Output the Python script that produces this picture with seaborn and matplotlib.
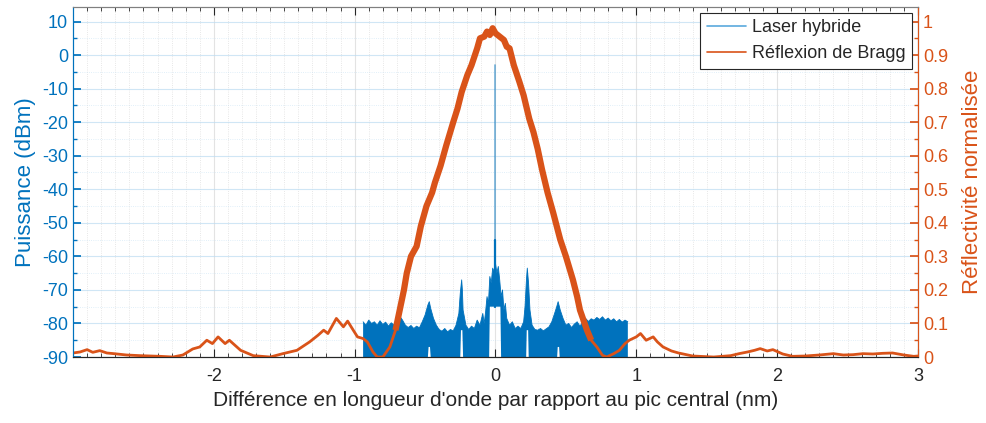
import numpy as np
import matplotlib
matplotlib.use("Agg")
import matplotlib.pyplot as plt
import matplotlib.ticker as ticker
from matplotlib.lines import Line2D
import seaborn as sns

# Bragg reflection spectrum (normalised reflectivity)
bragg_x = [-3.00, -2.95, -2.90, -2.86, -2.81, -2.76, -2.71, -2.62, -2.52, -2.38,
           -2.29, -2.22, -2.15, -2.10, -2.05, -2.01, -1.97, -1.92, -1.89, -1.81,
           -1.72, -1.60, -1.51, -1.46, -1.41, -1.32, -1.26, -1.22, -1.19, -1.13,
           -1.08, -1.05, -1.01, -0.98, -0.94, -0.91, -0.87, -0.84, -0.80, -0.75,
           -0.71, -0.68, -0.65, -0.63, -0.60, -0.56, -0.53, -0.49, -0.45, -0.43,
           -0.39, -0.35, -0.30, -0.27, -0.24, -0.20, -0.17, -0.13, -0.11, -0.08,
           -0.06, -0.04, -0.02, 0.00, 0.03, 0.06, 0.08, 0.10, 0.13, 0.17,
           0.20, 0.24, 0.27, 0.30, 0.33, 0.37, 0.41, 0.46, 0.50, 0.55,
           0.58, 0.60, 0.65, 0.68, 0.72, 0.76, 0.79, 0.84, 0.88, 0.92,
           0.95, 1.00, 1.03, 1.07, 1.12, 1.15, 1.19, 1.25, 1.30, 1.40,
           1.55, 1.67, 1.73, 1.79, 1.84, 1.88, 1.93, 1.97, 2.04, 2.11,
           2.20, 2.30, 2.40, 2.47, 2.54, 2.61, 2.68, 2.75, 2.82, 2.90,
           2.97, 3.00]
bragg_r = [0.012, 0.015, 0.022, 0.014, 0.019, 0.012, 0.010, 0.006, 0.004, 0.002,
           0.000, 0.006, 0.024, 0.030, 0.050, 0.040, 0.060, 0.040, 0.050, 0.020,
           0.004, 0.000, 0.010, 0.015, 0.020, 0.045, 0.065, 0.080, 0.070, 0.115,
           0.090, 0.107, 0.080, 0.060, 0.055, 0.045, 0.015, 0.000, 0.000, 0.030,
           0.080, 0.140, 0.200, 0.250, 0.300, 0.330, 0.390, 0.450, 0.490, 0.520,
           0.570, 0.630, 0.700, 0.740, 0.790, 0.840, 0.870, 0.920, 0.950, 0.955,
           0.970, 0.960, 0.980, 0.965, 0.955, 0.945, 0.925, 0.920, 0.870, 0.820,
           0.780, 0.710, 0.670, 0.620, 0.560, 0.490, 0.430, 0.350, 0.300, 0.230,
           0.180, 0.140, 0.080, 0.050, 0.030, 0.005, 0.000, 0.010, 0.020, 0.040,
           0.050, 0.060, 0.070, 0.050, 0.060, 0.045, 0.030, 0.018, 0.012, 0.003,
           0.000, 0.004, 0.010, 0.015, 0.020, 0.025, 0.018, 0.022, 0.009, 0.002,
           0.003, 0.006, 0.010, 0.006, 0.007, 0.010, 0.009, 0.011, 0.012, 0.006,
           0.002, 0.003]

# Hybrid laser spectrum: upper envelope of the noisy trace (dBm)
laser_top_x = [-0.94, -0.92, -0.90, -0.88, -0.86, -0.84, -0.82, -0.80, -0.78, -0.76,
               -0.74, -0.72, -0.70, -0.68, -0.66, -0.64, -0.62, -0.60, -0.58, -0.56,
               -0.54, -0.52, -0.50, -0.48, -0.47, -0.46, -0.44, -0.42, -0.40, -0.38,
               -0.36, -0.34, -0.32, -0.30, -0.28, -0.26, -0.25, -0.24, -0.235, -0.23,
               -0.21, -0.19, -0.17, -0.15, -0.13, -0.11, -0.09, -0.08, -0.07, -0.06,
               -0.05, -0.04, -0.03, -0.02, -0.01, 0.00, 0.01, 0.02, 0.03, 0.04,
               0.05, 0.06, 0.07, 0.08, 0.10, 0.12, 0.14, 0.16, 0.18, 0.20,
               0.21, 0.22, 0.226, 0.235, 0.245, 0.26, 0.28, 0.30, 0.32, 0.34,
               0.36, 0.38, 0.40, 0.42, 0.435, 0.445, 0.46, 0.48, 0.50, 0.52,
               0.54, 0.56, 0.58, 0.60, 0.62, 0.64, 0.66, 0.68, 0.70, 0.72,
               0.74, 0.76, 0.78, 0.80, 0.82, 0.84, 0.86, 0.88, 0.90, 0.92,
               0.94]
laser_top = [-79.5, -80.5, -79.0, -80.0, -79.5, -80.5, -79.2, -80.3, -79.6, -80.8,
             -79.8, -80.5, -78.8, -77.8, -79.0, -80.5, -81.2, -80.6, -81.5, -80.8,
             -81.3, -79.5, -77.5, -74.5, -73.5, -75.5, -78.5, -80.5, -81.8, -82.3,
             -81.5, -82.5, -81.8, -82.2, -80.5, -77.0, -71.0, -67.0, -70.0, -76.0,
             -80.5, -81.8, -80.8, -81.5, -79.0, -80.5, -77.0, -80.0, -76.5, -72.0,
             -74.0, -66.0, -68.0, -63.5, -64.5, -62.0, -65.0, -63.0, -67.0, -72.0,
             -70.0, -76.0, -74.0, -78.5, -80.5, -79.5, -81.5, -80.8, -81.5, -79.5,
             -75.0, -67.0, -63.5, -68.0, -76.0, -80.5, -81.8, -82.0, -81.5, -82.2,
             -81.6, -81.0, -79.5, -77.0, -75.0, -73.5, -76.0, -78.5, -80.5, -80.0,
             -81.2, -80.2, -79.5, -80.8, -79.6, -78.5, -79.4, -78.6, -79.0, -78.2,
             -78.8, -78.0, -79.0, -78.4, -79.2, -78.6, -79.5, -78.8, -79.6, -79.0,
             -79.5]
# lower envelope (floor rises under the side modes)
laser_bot_x = [-0.94, -0.48, -0.475, -0.465, -0.46, -0.25, -0.245, -0.235, -0.23,
               -0.045, -0.04, 0.035, 0.04, 0.218, 0.222, 0.232, 0.236,
               0.438, 0.442, 0.452, 0.456, 0.94]
laser_bot = [-90, -90, -87, -87, -90, -90, -82, -82, -90,
             -90, -75, -75, -90, -90, -82, -82, -90,
             -90, -87, -87, -90, -90]
peak_x = 0.0
peak_dbm = -3.0

blue = "#0072BD"
orange = "#D95319"

sns.set_theme(style="white")
plt.rcParams['font.family'] = ['Liberation Sans', 'DejaVu Sans']
plt.rcParams['axes.unicode_minus'] = False

fig = plt.figure(figsize=(9.87, 4.23), dpi=100)
ax = fig.add_axes([0.074, 0.156, 0.856, 0.828])
ax2 = ax.twinx()

# laser spectrum as a filled noise band + central lasing line
poly_x = laser_top_x + laser_bot_x[::-1]
poly_y = laser_top + laser_bot[::-1]
ax.fill(poly_x, poly_y, color=blue, lw=0)
ax.plot(laser_top_x, laser_top, color=blue, lw=0.6)
ax.plot([peak_x, peak_x], [-75, peak_dbm], color=blue, lw=1.2, alpha=0.55)
ax.plot([peak_x, peak_x], [-75, -55], color=blue, lw=1.6)

# Bragg reflection
sns.lineplot(x=bragg_x, y=bragg_r, ax=ax2, color=orange, lw=2.0, sort=False)
bx = np.array(bragg_x)
br = np.array(bragg_r)
core = np.abs(bx) < 0.72
ax2.plot(bx[core], br[core], color=orange, lw=4.5, solid_capstyle='butt')

ax.set_xlim(-3, 3)
ax.set_ylim(-90, 14.4)
ax2.set_ylim(0, 1.044)

ax.set_xticks([-2, -1, 0, 1, 2, 3])
ax.xaxis.set_minor_locator(ticker.MultipleLocator(0.1))
ax.set_yticks(np.arange(-90, 11, 10))
ax.yaxis.set_minor_locator(ticker.MultipleLocator(5))
ax2.set_yticks(np.arange(0, 1.01, 0.1))
ax2.set_yticklabels(['0', '0.1', '0.2', '0.3', '0.4', '0.5', '0.6', '0.7', '0.8', '0.9', '1'])
ax2.yaxis.set_minor_locator(ticker.MultipleLocator(0.05))

ax.tick_params(axis='x', which='both', direction='in', top=True, bottom=True,
               colors='#262626', labelsize=13, pad=8)
ax.tick_params(axis='x', which='major', length=6, width=0.8)
ax.tick_params(axis='x', which='minor', length=3, width=0.6)
ax.tick_params(axis='y', which='both', direction='in', colors=blue, labelsize=13)
ax.tick_params(axis='y', which='major', length=6)
ax.tick_params(axis='y', which='minor', length=3)
ax2.tick_params(axis='y', which='both', direction='in', colors=orange, labelsize=13)
ax2.tick_params(axis='y', which='major', length=6)
ax2.tick_params(axis='y', which='minor', length=3)

# grids
ax.grid(True, which='major', axis='x', color='#c8c8c8', alpha=0.5, lw=0.8)
ax.grid(True, which='minor', axis='x', color='#c0c0c0', alpha=0.5, lw=0.6, ls=':')
ax.grid(True, which='major', axis='y', color='#bcdcf2', alpha=0.7, lw=0.8)
ax.grid(True, which='minor', axis='y', color='#bcdcf2', alpha=0.6, lw=0.6, ls=':')
ax.set_axisbelow(True)

ax.spines['top'].set_color('#808080')
ax2.spines['top'].set_color('#808080')
ax.spines['bottom'].set_color('#262626')
ax2.spines['bottom'].set_color('#262626')
ax.spines['left'].set_color(blue)
ax2.spines['left'].set_color(blue)
ax2.spines['right'].set_color(orange)
for s in ax.spines.values():
    s.set_linewidth(0.8)
for s in ax2.spines.values():
    s.set_linewidth(0.8)

ax.set_xlabel("Différence en longueur d'onde par rapport au pic central (nm)",
              fontsize=15, color='#262626', labelpad=4)
ax.set_ylabel("Puissance (dBm)", fontsize=16, color=blue, labelpad=4)
ax2.set_ylabel("Réflectivité normalisée", fontsize=16, color=orange, labelpad=10)

handles = [Line2D([], [], color='#5aa9dd', lw=1.2),
           Line2D([], [], color=orange, lw=1.2)]
leg = ax2.legend(handles, ['Laser hybride', 'Réflexion de Bragg'], loc='upper right',
                 fontsize=13, frameon=True, fancybox=False, framealpha=1,
                 edgecolor='#262626', borderpad=0.35, handlelength=2.2,
                 handletextpad=0.3, labelspacing=0.5, borderaxespad=0.35)
leg.get_frame().set_linewidth(0.8)

fig.savefig("out.png", dpi=100)
